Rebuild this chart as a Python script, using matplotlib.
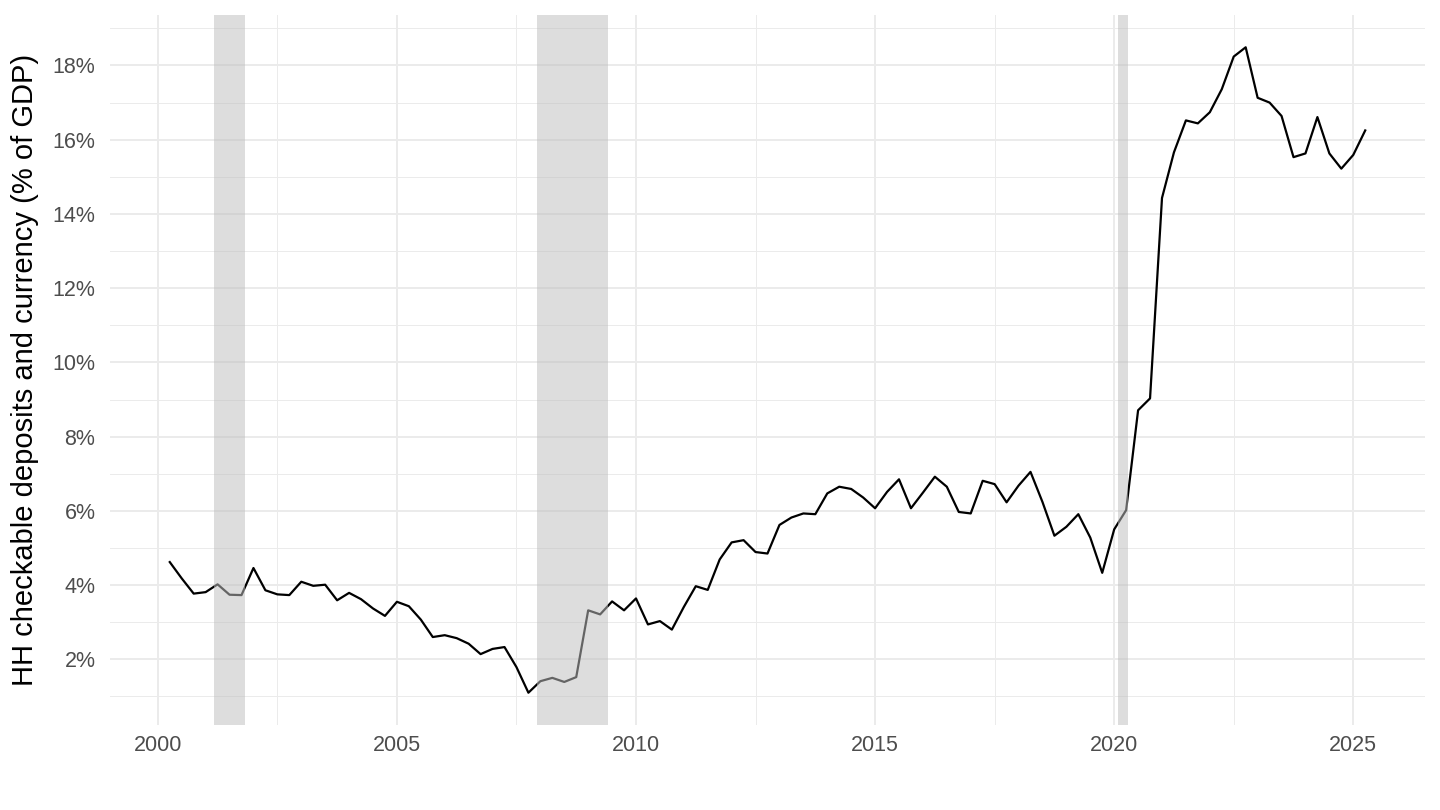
import matplotlib
matplotlib.use("Agg")
import matplotlib.pyplot as plt
import numpy as np
from matplotlib.ticker import FuncFormatter, MultipleLocator

plt.rcParams['font.family'] = ['Liberation Sans', 'DejaVu Sans']

# quarterly dates, 2000 Q2 .. 2025 Q2
dates = 2000.25 + 0.25 * np.arange(101)

# HH checkable deposits and currency, % of GDP
values = [
    4.62, 4.18, 3.77,
    3.81, 4.02, 3.74, 3.73,
    4.46, 3.86, 3.75, 3.73,
    4.09, 3.98, 4.01, 3.59,
    3.79, 3.62, 3.37, 3.17,
    3.55, 3.43, 3.07, 2.60,
    2.65, 2.57, 2.42, 2.14,
    2.28, 2.33, 1.79, 1.10,
    1.41, 1.50, 1.39, 1.52,
    3.32, 3.21, 3.56, 3.32,
    3.64, 2.94, 3.03, 2.80,
    3.41, 3.97, 3.87, 4.69,
    5.15, 5.21, 4.89, 4.85,
    5.62, 5.82, 5.93, 5.91,
    6.47, 6.65, 6.59, 6.36,
    6.07, 6.51, 6.85, 6.07,
    6.49, 6.92, 6.65, 5.97,
    5.93, 6.81, 6.72, 6.23,
    6.68, 7.05, 6.24, 5.33,
    5.57, 5.91, 5.28, 4.33,
    5.50, 6.02, 8.71, 9.03,
    14.43, 15.66, 16.52, 16.44,
    16.74, 17.36, 18.24, 18.49,
    17.13, 17.00, 16.64, 15.53,
    15.63, 16.61, 15.63, 15.22,
    15.59, 16.25,
]

# NBER recessions (decimal years)
rec_start = [2001.17, 2007.92, 2020.08]
rec_end = [2001.83, 2009.42, 2020.29]

fig = plt.figure(figsize=(14.4, 8.1), dpi=100)
ax = fig.add_axes([110 / 1440, 85 / 810, 1315 / 1440, 710 / 810])

ax.plot(dates, values, color='black', lw=1.6, zorder=2)

for s, e in zip(rec_start, rec_end):
    ax.axvspan(s, e, color='#bfbfbf', alpha=0.53, lw=0, zorder=3)

ax.set_xlim(1999.0, 2026.5)
ax.set_ylim(0.23, 19.36)

ax.xaxis.set_major_locator(MultipleLocator(5))
ax.xaxis.set_minor_locator(MultipleLocator(2.5))
ax.yaxis.set_major_locator(MultipleLocator(2))
ax.yaxis.set_minor_locator(MultipleLocator(1))
ax.yaxis.set_major_formatter(FuncFormatter(lambda v, p: f"{v:.0f}%"))
ax.xaxis.set_major_formatter(FuncFormatter(lambda v, p: f"{v:.0f}"))

ax.grid(which='major', color='#ebebeb', lw=1.4, zorder=0)
ax.grid(which='minor', color='#ebebeb', lw=0.7, zorder=0)
ax.set_axisbelow(True)
for sp in ax.spines.values():
    sp.set_visible(False)
ax.tick_params(which='both', length=0)
ax.tick_params(axis='both', labelsize=15.5, labelcolor='#4d4d4d')
ax.tick_params(axis='y', pad=10.5)
ax.tick_params(axis='x', pad=7)

ax.set_ylabel('HH checkable deposits and currency (% of GDP)', fontsize=21, color='black', labelpad=10)

fig.savefig('out.png', dpi=100)
